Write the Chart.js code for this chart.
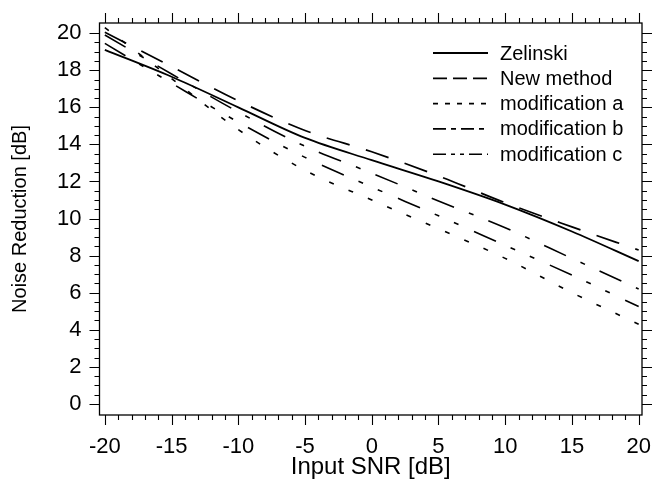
<!DOCTYPE html>
<html>
<head>
<meta charset="utf-8">
<script src="https://cdn.jsdelivr.net/npm/chart.js@4.4.1/dist/chart.umd.min.js"></script>
<style>
  html, body { margin: 0; padding: 0; background: #fff; }
  #wrap { width: 652px; height: 489px; }
</style>
</head>
<body>
<div id="wrap"><canvas id="nrChart"></canvas></div>
<script>
// Noise reduction vs input SNR
const inputSnr = [-20, -15, -10, -5, 0, 5, 10, 15, 20];
const zelinski = [19.1, 17.65, 16.0, 14.35, 13.15, 12.0, 10.75, 9.3, 7.7];
const newMethod = [20.05, 18.2, 16.35, 14.75, 13.6, 12.3, 10.85, 9.55, 8.3];
const modA = [20.3, 17.55, 14.8, 12.6, 11.0, 9.45, 7.85, 6.0, 4.3];
const modB = [19.9, 17.8, 15.75, 13.9, 12.45, 10.95, 9.5, 7.85, 6.2];
const modC = [19.45, 17.3, 15.2, 13.3, 11.7, 10.15, 8.55, 6.95, 5.25];

const FONT = '"Liberation Sans", Arial, Helvetica, sans-serif';

function points(ys) {
    return inputSnr.map((x, i) => ({ x: x, y: ys[i] }));
}

function series(label, ys, dash, legendDash, width) {
    return {
        label: label,
        data: points(ys),
        borderColor: '#000',
        backgroundColor: '#000',
        borderWidth: width,
        borderDash: dash,
        legendDash: legendDash,
        pointRadius: 0,
        cubicInterpolationMode: 'monotone',
        fill: false
    };
}

// Frame box plus major/minor tick marks on all four sides
const frameTicks = {
    id: 'frameTicks',
    afterDraw(chart) {
        const { ctx, chartArea: a, scales: { x, y } } = chart;
        ctx.save();
        ctx.strokeStyle = '#000';
        ctx.lineWidth = 1.3;
        ctx.setLineDash([]);
        ctx.strokeRect(a.left, a.top, a.right - a.left, a.bottom - a.top);
        ctx.lineWidth = 1.1;
        ctx.beginPath();
        for (let v = -20; v <= 20; v++) {
            const px = Math.round(x.getPixelForValue(v)) + 0.5;
            const len = v % 5 === 0 ? 10 : 5;
            ctx.moveTo(px, a.bottom); ctx.lineTo(px, a.bottom + len);
            ctx.moveTo(px, a.top); ctx.lineTo(px, a.top - len);
        }
        for (let k = 0; k <= 40; k++) {
            const v = k / 2;
            const py = Math.round(y.getPixelForValue(v)) + 0.5;
            const len = k % 4 === 0 ? 10 : 5;
            ctx.moveTo(a.left, py); ctx.lineTo(a.left - len, py);
            ctx.moveTo(a.right, py); ctx.lineTo(a.right + len, py);
        }
        ctx.stroke();
        ctx.restore();
    }
};

// Legend drawn inside the plot, upper right
const insideLegend = {
    id: 'insideLegend',
    afterDraw(chart) {
        const ctx = chart.ctx;
        const x0 = 433, lineLen = 55, y0 = 53, rowH = 25.3;
        ctx.save();
        ctx.font = '20px ' + FONT;
        ctx.fillStyle = '#000';
        ctx.textBaseline = 'middle';
        chart.data.datasets.forEach((ds, i) => {
            const yy = y0 + i * rowH;
            ctx.strokeStyle = ds.borderColor;
            ctx.lineWidth = ds.borderWidth;
            ctx.setLineDash(ds.legendDash);
            ctx.beginPath();
            ctx.moveTo(x0, yy);
            ctx.lineTo(x0 + lineLen, yy);
            ctx.stroke();
            ctx.fillText(ds.label, x0 + lineLen + 12, yy + 1);
        });
        ctx.restore();
    }
};

const ctx = document.getElementById('nrChart').getContext('2d');
new Chart(ctx, {
    type: 'line',
    data: {
        datasets: [
            series('Zelinski', zelinski, [], [], 1.8),
            series('New method', newMethod, [24, 17], [14, 6], 1.7),
            series('modification a', modA, [5, 16], [5, 7], 1.6),
            series('modification b', modB, [24, 16, 5, 16], [13, 5, 5, 5], 1.6),
            series('modification c', modC, [24, 16, 5, 16, 5, 17], [13, 5, 4, 5, 4, 5], 1.6)
        ]
    },
    options: {
        responsive: true,
        maintainAspectRatio: false,
        animation: false,
        layout: { padding: { top: 23, right: 10, left: 0, bottom: 0 } },
        plugins: {
            legend: { display: false },
            tooltip: { enabled: false }
        },
        scales: {
            x: {
                type: 'linear',
                min: -20.4,
                max: 20.25,
                afterFit: (scale) => {
                    scale.height = 74;
                    scale.paddingLeft = 0;
                    scale.paddingRight = 0;
                },
                grid: { display: false, drawTicks: false },
                border: { display: false },
                ticks: {
                    stepSize: 5,
                    includeBounds: false,
                    autoSkip: false,
                    maxRotation: 0,
                    padding: 19,
                    color: '#000',
                    font: { family: FONT, size: 22 }
                },
                title: {
                    display: true,
                    text: 'Input SNR [dB]',
                    color: '#000',
                    font: { family: FONT, size: 24 },
                    padding: { top: 0, bottom: 7 }
                }
            },
            y: {
                type: 'linear',
                min: -0.6,
                max: 20.55,
                afterFit: (scale) => {
                    scale.width = 99.5;
                    scale.paddingTop = 0;
                    scale.paddingBottom = 0;
                },
                grid: { display: false, drawTicks: false },
                border: { display: false },
                ticks: {
                    stepSize: 2,
                    includeBounds: false,
                    autoSkip: false,
                    padding: 18,
                    color: '#000',
                    font: { family: FONT, size: 22 }
                },
                title: {
                    display: true,
                    text: 'Noise Reduction [dB]',
                    color: '#000',
                    font: { family: FONT, size: 20 },
                    padding: { top: 8, bottom: 0 }
                }
            }
        }
    },
    plugins: [frameTicks, insideLegend]
});
</script>
</body>
</html>
